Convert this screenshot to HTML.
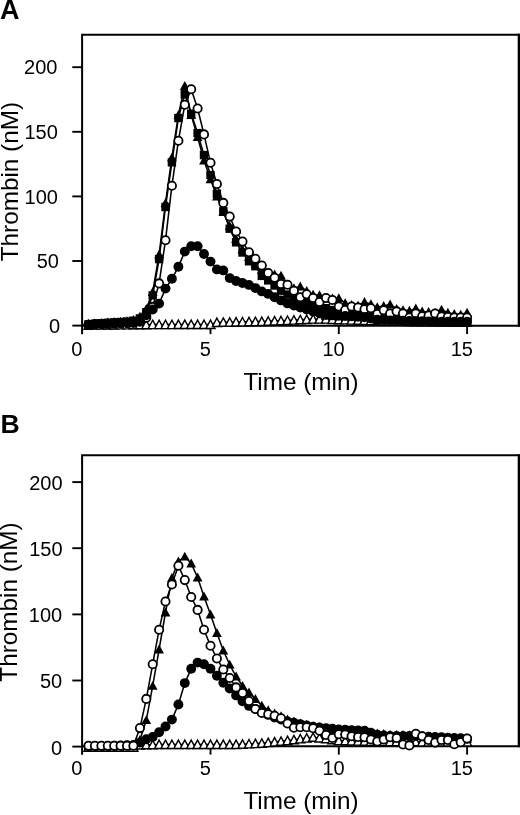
<!DOCTYPE html>
<html><head><meta charset="utf-8"><style>
html,body{margin:0;padding:0;background:#fff;}
svg{display:block;will-change:transform;}
text{font-family:"Liberation Sans",sans-serif;fill:#000;}
</style></head><body>
<svg width="520" height="815" viewBox="0 0 520 815">
<text x="0" y="18.8" font-size="27" font-weight="bold">A</text>
<text x="0.5" y="432.8" font-size="26.6" font-weight="bold">B</text>
<path d="M82.1 334.3 V34.7 H520" fill="none" stroke="#000" stroke-width="2"/>
<path d="M82.1 325.7 H520" fill="none" stroke="#000" stroke-width="2"/>
<rect x="517.7" y="33.7" width="2.3" height="293"/>
<path d="M72.3 325.6 H82" stroke="#000" stroke-width="1.9"/>
<path d="M72.3 261 H82" stroke="#000" stroke-width="1.9"/>
<path d="M72.3 196.4 H82" stroke="#000" stroke-width="1.9"/>
<path d="M72.3 131.8 H82" stroke="#000" stroke-width="1.9"/>
<path d="M72.3 67.2 H82" stroke="#000" stroke-width="1.9"/>
<path d="M210.5 325.7 V334.1" stroke="#000" stroke-width="1.9"/>
<path d="M338.8 325.7 V334.1" stroke="#000" stroke-width="1.9"/>
<path d="M467.1 325.7 V334.1" stroke="#000" stroke-width="1.9"/>
<text x="60.1" y="332.7" text-anchor="end" font-size="20">0</text>
<text x="59" y="268.1" text-anchor="end" font-size="20">50</text>
<text x="57.9" y="203.5" text-anchor="end" font-size="20">100</text>
<text x="57.8" y="138.9" text-anchor="end" font-size="20">150</text>
<text x="57.4" y="74.3" text-anchor="end" font-size="20">200</text>
<text x="76.8" y="355.6" text-anchor="middle" font-size="20">0</text>
<text x="205.2" y="355.6" text-anchor="middle" font-size="20">5</text>
<text x="333.5" y="355.6" text-anchor="middle" font-size="20">10</text>
<text x="461.8" y="355.6" text-anchor="middle" font-size="20">15</text>
<text x="301" y="389.8" text-anchor="middle" font-size="24.3">Time (min)</text>
<text transform="translate(17.8 181.6) rotate(-90)" text-anchor="middle" font-size="24.3">Thrombin (nM)</text>
<path d="M88.5 325.2 L94.9 325.1 L101.4 325.1 L107.8 325 L114.2 325 L120.6 324.9 L127 324.9 L133.4 324.8 L139.9 324.8 L146.3 324.7 L152.7 324.6 L159.1 324.6 L165.5 324.6 L171.9 324.6 L178.4 324.5 L184.8 324.5 L191.2 324.5 L197.6 324.5 L204 324.5 L210.5 324.5 L216.9 322.5 L223.3 322.3 L229.7 322.2 L236.1 322 L242.5 321.9 L249 321.7 L255.4 321.6 L261.8 321.5 L268.2 321.2 L274.6 320.9 L281 320.7 L287.5 320.4 L293.9 320.1 L300.3 319.8 L306.7 319.5 L313.1 319.1 L319.5 319.1 L326 319.1 L332.4 319.5 L338.8 319.8 L345.2 319.9 L351.6 320.1 L358.1 320.3 L364.5 320.4 L370.9 320.6 L377.3 320.8 L383.7 320.9 L390.1 321.1 L396.6 321.2 L403 321.4 L409.4 321.6 L415.8 321.7 L422.2 321.8 L428.6 321.9 L435.1 322 L441.5 322 L447.9 322.1 L454.3 322.2 L460.7 322.3 L467.1 322.4" fill="none" stroke="#000" stroke-width="1.55"/>
<path d="M88.5 320.8l4.5 8.4h-9z" fill="#fff" stroke="#000" stroke-width="1.4" stroke-linejoin="miter"/>
<path d="M94.9 320.7l4.5 8.4h-9z" fill="#fff" stroke="#000" stroke-width="1.4" stroke-linejoin="miter"/>
<path d="M101.4 320.7l4.5 8.4h-9z" fill="#fff" stroke="#000" stroke-width="1.4" stroke-linejoin="miter"/>
<path d="M107.8 320.6l4.5 8.4h-9z" fill="#fff" stroke="#000" stroke-width="1.4" stroke-linejoin="miter"/>
<path d="M114.2 320.6l4.5 8.4h-9z" fill="#fff" stroke="#000" stroke-width="1.4" stroke-linejoin="miter"/>
<path d="M120.6 320.5l4.5 8.4h-9z" fill="#fff" stroke="#000" stroke-width="1.4" stroke-linejoin="miter"/>
<path d="M127 320.5l4.5 8.4h-9z" fill="#fff" stroke="#000" stroke-width="1.4" stroke-linejoin="miter"/>
<path d="M133.4 320.4l4.5 8.4h-9z" fill="#fff" stroke="#000" stroke-width="1.4" stroke-linejoin="miter"/>
<path d="M139.9 320.4l4.5 8.4h-9z" fill="#fff" stroke="#000" stroke-width="1.4" stroke-linejoin="miter"/>
<path d="M146.3 320.3l4.5 8.4h-9z" fill="#fff" stroke="#000" stroke-width="1.4" stroke-linejoin="miter"/>
<path d="M152.7 320.2l4.5 8.4h-9z" fill="#fff" stroke="#000" stroke-width="1.4" stroke-linejoin="miter"/>
<path d="M159.1 320.2l4.5 8.4h-9z" fill="#fff" stroke="#000" stroke-width="1.4" stroke-linejoin="miter"/>
<path d="M165.5 320.2l4.5 8.4h-9z" fill="#fff" stroke="#000" stroke-width="1.4" stroke-linejoin="miter"/>
<path d="M171.9 320.2l4.5 8.4h-9z" fill="#fff" stroke="#000" stroke-width="1.4" stroke-linejoin="miter"/>
<path d="M178.4 320.1l4.5 8.4h-9z" fill="#fff" stroke="#000" stroke-width="1.4" stroke-linejoin="miter"/>
<path d="M184.8 320.1l4.5 8.4h-9z" fill="#fff" stroke="#000" stroke-width="1.4" stroke-linejoin="miter"/>
<path d="M191.2 320.1l4.5 8.4h-9z" fill="#fff" stroke="#000" stroke-width="1.4" stroke-linejoin="miter"/>
<path d="M197.6 320.1l4.5 8.4h-9z" fill="#fff" stroke="#000" stroke-width="1.4" stroke-linejoin="miter"/>
<path d="M204 320.1l4.5 8.4h-9z" fill="#fff" stroke="#000" stroke-width="1.4" stroke-linejoin="miter"/>
<path d="M210.5 320.1l4.5 8.4h-9z" fill="#fff" stroke="#000" stroke-width="1.4" stroke-linejoin="miter"/>
<path d="M216.9 318.1l4.5 8.4h-9z" fill="#fff" stroke="#000" stroke-width="1.4" stroke-linejoin="miter"/>
<path d="M223.3 317.9l4.5 8.4h-9z" fill="#fff" stroke="#000" stroke-width="1.4" stroke-linejoin="miter"/>
<path d="M229.7 317.8l4.5 8.4h-9z" fill="#fff" stroke="#000" stroke-width="1.4" stroke-linejoin="miter"/>
<path d="M236.1 317.6l4.5 8.4h-9z" fill="#fff" stroke="#000" stroke-width="1.4" stroke-linejoin="miter"/>
<path d="M242.5 317.5l4.5 8.4h-9z" fill="#fff" stroke="#000" stroke-width="1.4" stroke-linejoin="miter"/>
<path d="M249 317.3l4.5 8.4h-9z" fill="#fff" stroke="#000" stroke-width="1.4" stroke-linejoin="miter"/>
<path d="M255.4 317.2l4.5 8.4h-9z" fill="#fff" stroke="#000" stroke-width="1.4" stroke-linejoin="miter"/>
<path d="M261.8 317.1l4.5 8.4h-9z" fill="#fff" stroke="#000" stroke-width="1.4" stroke-linejoin="miter"/>
<path d="M268.2 316.8l4.5 8.4h-9z" fill="#fff" stroke="#000" stroke-width="1.4" stroke-linejoin="miter"/>
<path d="M274.6 316.5l4.5 8.4h-9z" fill="#fff" stroke="#000" stroke-width="1.4" stroke-linejoin="miter"/>
<path d="M281 316.3l4.5 8.4h-9z" fill="#fff" stroke="#000" stroke-width="1.4" stroke-linejoin="miter"/>
<path d="M287.5 316l4.5 8.4h-9z" fill="#fff" stroke="#000" stroke-width="1.4" stroke-linejoin="miter"/>
<path d="M293.9 315.7l4.5 8.4h-9z" fill="#fff" stroke="#000" stroke-width="1.4" stroke-linejoin="miter"/>
<path d="M300.3 315.4l4.5 8.4h-9z" fill="#fff" stroke="#000" stroke-width="1.4" stroke-linejoin="miter"/>
<path d="M306.7 315.1l4.5 8.4h-9z" fill="#fff" stroke="#000" stroke-width="1.4" stroke-linejoin="miter"/>
<path d="M313.1 314.7l4.5 8.4h-9z" fill="#fff" stroke="#000" stroke-width="1.4" stroke-linejoin="miter"/>
<path d="M319.5 314.7l4.5 8.4h-9z" fill="#fff" stroke="#000" stroke-width="1.4" stroke-linejoin="miter"/>
<path d="M326 314.7l4.5 8.4h-9z" fill="#fff" stroke="#000" stroke-width="1.4" stroke-linejoin="miter"/>
<path d="M332.4 315.1l4.5 8.4h-9z" fill="#fff" stroke="#000" stroke-width="1.4" stroke-linejoin="miter"/>
<path d="M338.8 315.4l4.5 8.4h-9z" fill="#fff" stroke="#000" stroke-width="1.4" stroke-linejoin="miter"/>
<path d="M345.2 315.5l4.5 8.4h-9z" fill="#fff" stroke="#000" stroke-width="1.4" stroke-linejoin="miter"/>
<path d="M351.6 315.7l4.5 8.4h-9z" fill="#fff" stroke="#000" stroke-width="1.4" stroke-linejoin="miter"/>
<path d="M358.1 315.9l4.5 8.4h-9z" fill="#fff" stroke="#000" stroke-width="1.4" stroke-linejoin="miter"/>
<path d="M364.5 316l4.5 8.4h-9z" fill="#fff" stroke="#000" stroke-width="1.4" stroke-linejoin="miter"/>
<path d="M370.9 316.2l4.5 8.4h-9z" fill="#fff" stroke="#000" stroke-width="1.4" stroke-linejoin="miter"/>
<path d="M377.3 316.4l4.5 8.4h-9z" fill="#fff" stroke="#000" stroke-width="1.4" stroke-linejoin="miter"/>
<path d="M383.7 316.5l4.5 8.4h-9z" fill="#fff" stroke="#000" stroke-width="1.4" stroke-linejoin="miter"/>
<path d="M390.1 316.7l4.5 8.4h-9z" fill="#fff" stroke="#000" stroke-width="1.4" stroke-linejoin="miter"/>
<path d="M396.6 316.8l4.5 8.4h-9z" fill="#fff" stroke="#000" stroke-width="1.4" stroke-linejoin="miter"/>
<path d="M403 317l4.5 8.4h-9z" fill="#fff" stroke="#000" stroke-width="1.4" stroke-linejoin="miter"/>
<path d="M409.4 317.2l4.5 8.4h-9z" fill="#fff" stroke="#000" stroke-width="1.4" stroke-linejoin="miter"/>
<path d="M415.8 317.3l4.5 8.4h-9z" fill="#fff" stroke="#000" stroke-width="1.4" stroke-linejoin="miter"/>
<path d="M422.2 317.4l4.5 8.4h-9z" fill="#fff" stroke="#000" stroke-width="1.4" stroke-linejoin="miter"/>
<path d="M428.6 317.5l4.5 8.4h-9z" fill="#fff" stroke="#000" stroke-width="1.4" stroke-linejoin="miter"/>
<path d="M435.1 317.6l4.5 8.4h-9z" fill="#fff" stroke="#000" stroke-width="1.4" stroke-linejoin="miter"/>
<path d="M441.5 317.6l4.5 8.4h-9z" fill="#fff" stroke="#000" stroke-width="1.4" stroke-linejoin="miter"/>
<path d="M447.9 317.7l4.5 8.4h-9z" fill="#fff" stroke="#000" stroke-width="1.4" stroke-linejoin="miter"/>
<path d="M454.3 317.8l4.5 8.4h-9z" fill="#fff" stroke="#000" stroke-width="1.4" stroke-linejoin="miter"/>
<path d="M460.7 317.9l4.5 8.4h-9z" fill="#fff" stroke="#000" stroke-width="1.4" stroke-linejoin="miter"/>
<path d="M467.1 318l4.5 8.4h-9z" fill="#fff" stroke="#000" stroke-width="1.4" stroke-linejoin="miter"/>
<path d="M88.5 324.3 L94.9 323.7 L101.4 323.2 L107.8 322.8 L114.2 322.4 L120.6 322 L127 321.5 L133.4 320.7 L139.9 318.4 L146.3 312.2 L152.7 295.4 L159.1 259.1 L165.5 207 L171.9 162.3 L178.4 118 L184.8 94.3 L191.2 113.7 L197.6 133.1 L204 155.1 L210.5 175.1 L216.9 193.8 L223.3 211.3 L229.7 228.7 L236.1 242.3 L242.5 252.5 L249 261.3 L255.4 266.2 L261.8 275.9 L268.2 280.4 L274.6 285.5 L281 290.7 L287.5 294.6 L293.9 297.2 L300.3 299.8 L306.7 302.3 L313.1 304.3 L319.5 306.2 L326 308.2 L332.4 310.1 L338.8 311.4 L345.2 312.7 L351.6 314 L358.1 314.9 L364.5 315.9 L370.9 316.9 L377.3 317.8 L383.7 318.5 L390.1 319.1 L396.6 319.5 L403 319.8 L409.4 320.1 L415.8 320.4 L422.2 320.6 L428.6 320.8 L435.1 320.9 L441.5 321.1 L447.9 321.2 L454.3 321.4 L460.7 321.6 L467.1 321.7" fill="none" stroke="#000" stroke-width="1.55"/>
<rect x="84.3" y="320.1" width="8.4" height="8.4"/>
<rect x="90.7" y="319.5" width="8.4" height="8.4"/>
<rect x="97.2" y="319" width="8.4" height="8.4"/>
<rect x="103.6" y="318.6" width="8.4" height="8.4"/>
<rect x="110" y="318.2" width="8.4" height="8.4"/>
<rect x="116.4" y="317.8" width="8.4" height="8.4"/>
<rect x="122.8" y="317.3" width="8.4" height="8.4"/>
<rect x="129.2" y="316.5" width="8.4" height="8.4"/>
<rect x="135.7" y="314.2" width="8.4" height="8.4"/>
<rect x="142.1" y="308" width="8.4" height="8.4"/>
<rect x="148.5" y="291.2" width="8.4" height="8.4"/>
<rect x="154.9" y="254.9" width="8.4" height="8.4"/>
<rect x="161.3" y="202.8" width="8.4" height="8.4"/>
<rect x="167.7" y="158.1" width="8.4" height="8.4"/>
<rect x="174.2" y="113.8" width="8.4" height="8.4"/>
<rect x="180.6" y="90.1" width="8.4" height="8.4"/>
<rect x="187" y="109.5" width="8.4" height="8.4"/>
<rect x="193.4" y="128.9" width="8.4" height="8.4"/>
<rect x="199.8" y="150.9" width="8.4" height="8.4"/>
<rect x="206.3" y="170.9" width="8.4" height="8.4"/>
<rect x="212.7" y="189.6" width="8.4" height="8.4"/>
<rect x="219.1" y="207.1" width="8.4" height="8.4"/>
<rect x="225.5" y="224.5" width="8.4" height="8.4"/>
<rect x="231.9" y="238.1" width="8.4" height="8.4"/>
<rect x="238.3" y="248.3" width="8.4" height="8.4"/>
<rect x="244.8" y="257.1" width="8.4" height="8.4"/>
<rect x="251.2" y="262" width="8.4" height="8.4"/>
<rect x="257.6" y="271.7" width="8.4" height="8.4"/>
<rect x="264" y="276.2" width="8.4" height="8.4"/>
<rect x="270.4" y="281.3" width="8.4" height="8.4"/>
<rect x="276.8" y="286.5" width="8.4" height="8.4"/>
<rect x="283.3" y="290.4" width="8.4" height="8.4"/>
<rect x="289.7" y="293" width="8.4" height="8.4"/>
<rect x="296.1" y="295.6" width="8.4" height="8.4"/>
<rect x="302.5" y="298.1" width="8.4" height="8.4"/>
<rect x="308.9" y="300.1" width="8.4" height="8.4"/>
<rect x="315.3" y="302" width="8.4" height="8.4"/>
<rect x="321.8" y="304" width="8.4" height="8.4"/>
<rect x="328.2" y="305.9" width="8.4" height="8.4"/>
<rect x="334.6" y="307.2" width="8.4" height="8.4"/>
<rect x="341" y="308.5" width="8.4" height="8.4"/>
<rect x="347.4" y="309.8" width="8.4" height="8.4"/>
<rect x="353.9" y="310.7" width="8.4" height="8.4"/>
<rect x="360.3" y="311.7" width="8.4" height="8.4"/>
<rect x="366.7" y="312.7" width="8.4" height="8.4"/>
<rect x="373.1" y="313.6" width="8.4" height="8.4"/>
<rect x="379.5" y="314.3" width="8.4" height="8.4"/>
<rect x="385.9" y="314.9" width="8.4" height="8.4"/>
<rect x="392.4" y="315.3" width="8.4" height="8.4"/>
<rect x="398.8" y="315.6" width="8.4" height="8.4"/>
<rect x="405.2" y="315.9" width="8.4" height="8.4"/>
<rect x="411.6" y="316.2" width="8.4" height="8.4"/>
<rect x="418" y="316.4" width="8.4" height="8.4"/>
<rect x="424.4" y="316.6" width="8.4" height="8.4"/>
<rect x="430.9" y="316.7" width="8.4" height="8.4"/>
<rect x="437.3" y="316.9" width="8.4" height="8.4"/>
<rect x="443.7" y="317" width="8.4" height="8.4"/>
<rect x="450.1" y="317.2" width="8.4" height="8.4"/>
<rect x="456.5" y="317.4" width="8.4" height="8.4"/>
<rect x="462.9" y="317.5" width="8.4" height="8.4"/>
<path d="M88.5 323.9 L94.9 323.3 L101.4 322.8 L107.8 322.4 L114.2 322 L120.6 321.7 L127 321.2 L133.4 319.8 L139.9 316.6 L146.3 308.8 L152.7 292 L159.1 254.5 L165.5 202.9 L171.9 157.6 L178.4 115 L184.8 85.9 L191.2 115 L197.6 137 L204 160.5 L210.5 179.2 L216.9 196.4 L223.3 211.9 L229.7 226.1 L236.1 239 L242.5 249.4 L249 257.1 L255.4 263.6 L261.8 270 L268.2 273.3 L274.6 274.4 L281 275.6 L287.5 284.3 L293.9 288.1 L300.3 286.5 L306.7 291 L313.1 294.6 L319.5 295.2 L326 298.5 L332.4 298.5 L338.8 298.2 L345.2 303.1 L351.6 304.9 L358.1 305.6 L364.5 302 L370.9 304.2 L377.3 307.1 L383.7 306 L390.1 304.4 L396.6 308.8 L403 310.1 L409.4 310.7 L415.8 308.5 L422.2 311.4 L428.6 312 L435.1 312.7 L441.5 309.7 L447.9 312.7 L454.3 314 L460.7 314.6 L467.1 312.7" fill="none" stroke="#000" stroke-width="1.55"/>
<path d="M88.5 319l4.9 8.9h-9.8z"/>
<path d="M94.9 318.4l4.9 8.9h-9.8z"/>
<path d="M101.4 317.9l4.9 8.9h-9.8z"/>
<path d="M107.8 317.5l4.9 8.9h-9.8z"/>
<path d="M114.2 317.1l4.9 8.9h-9.8z"/>
<path d="M120.6 316.8l4.9 8.9h-9.8z"/>
<path d="M127 316.3l4.9 8.9h-9.8z"/>
<path d="M133.4 314.9l4.9 8.9h-9.8z"/>
<path d="M139.9 311.7l4.9 8.9h-9.8z"/>
<path d="M146.3 303.9l4.9 8.9h-9.8z"/>
<path d="M152.7 287.1l4.9 8.9h-9.8z"/>
<path d="M159.1 249.6l4.9 8.9h-9.8z"/>
<path d="M165.5 198l4.9 8.9h-9.8z"/>
<path d="M171.9 152.7l4.9 8.9h-9.8z"/>
<path d="M178.4 110.1l4.9 8.9h-9.8z"/>
<path d="M184.8 81l4.9 8.9h-9.8z"/>
<path d="M191.2 110.1l4.9 8.9h-9.8z"/>
<path d="M197.6 132.1l4.9 8.9h-9.8z"/>
<path d="M204 155.6l4.9 8.9h-9.8z"/>
<path d="M210.5 174.3l4.9 8.9h-9.8z"/>
<path d="M216.9 191.5l4.9 8.9h-9.8z"/>
<path d="M223.3 207l4.9 8.9h-9.8z"/>
<path d="M229.7 221.2l4.9 8.9h-9.8z"/>
<path d="M236.1 234.1l4.9 8.9h-9.8z"/>
<path d="M242.5 244.5l4.9 8.9h-9.8z"/>
<path d="M249 252.2l4.9 8.9h-9.8z"/>
<path d="M255.4 258.7l4.9 8.9h-9.8z"/>
<path d="M261.8 265.1l4.9 8.9h-9.8z"/>
<path d="M268.2 268.4l4.9 8.9h-9.8z"/>
<path d="M274.6 269.5l4.9 8.9h-9.8z"/>
<path d="M281 270.7l4.9 8.9h-9.8z"/>
<path d="M287.5 279.4l4.9 8.9h-9.8z"/>
<path d="M293.9 283.2l4.9 8.9h-9.8z"/>
<path d="M300.3 281.6l4.9 8.9h-9.8z"/>
<path d="M306.7 286.1l4.9 8.9h-9.8z"/>
<path d="M313.1 289.7l4.9 8.9h-9.8z"/>
<path d="M319.5 290.3l4.9 8.9h-9.8z"/>
<path d="M326 293.6l4.9 8.9h-9.8z"/>
<path d="M332.4 293.6l4.9 8.9h-9.8z"/>
<path d="M338.8 293.3l4.9 8.9h-9.8z"/>
<path d="M345.2 298.2l4.9 8.9h-9.8z"/>
<path d="M351.6 300l4.9 8.9h-9.8z"/>
<path d="M358.1 300.7l4.9 8.9h-9.8z"/>
<path d="M364.5 297.1l4.9 8.9h-9.8z"/>
<path d="M370.9 299.3l4.9 8.9h-9.8z"/>
<path d="M377.3 302.2l4.9 8.9h-9.8z"/>
<path d="M383.7 301.1l4.9 8.9h-9.8z"/>
<path d="M390.1 299.5l4.9 8.9h-9.8z"/>
<path d="M396.6 303.9l4.9 8.9h-9.8z"/>
<path d="M403 305.2l4.9 8.9h-9.8z"/>
<path d="M409.4 305.8l4.9 8.9h-9.8z"/>
<path d="M415.8 303.6l4.9 8.9h-9.8z"/>
<path d="M422.2 306.5l4.9 8.9h-9.8z"/>
<path d="M428.6 307.1l4.9 8.9h-9.8z"/>
<path d="M435.1 307.8l4.9 8.9h-9.8z"/>
<path d="M441.5 304.8l4.9 8.9h-9.8z"/>
<path d="M447.9 307.8l4.9 8.9h-9.8z"/>
<path d="M454.3 309.1l4.9 8.9h-9.8z"/>
<path d="M460.7 309.7l4.9 8.9h-9.8z"/>
<path d="M467.1 307.8l4.9 8.9h-9.8z"/>
<path d="M88.5 324.8 L94.9 324.3 L101.4 324 L107.8 323.7 L114.2 323.5 L120.6 323.3 L127 323 L133.4 322.8 L139.9 321.7 L146.3 317.8 L152.7 306.9 L159.1 283.4 L165.5 240.3 L171.9 185.7 L178.4 140.8 L184.8 104.7 L191.2 89.2 L197.6 108.5 L204 134.4 L210.5 162.8 L216.9 184 L223.3 202.9 L229.7 216.6 L236.1 231.5 L242.5 241.6 L249 252.2 L255.4 258.7 L261.8 265.5 L268.2 273.1 L274.6 277.7 L281 284.1 L287.5 284.8 L293.9 290.8 L300.3 297.2 L306.7 294.2 L313.1 298 L319.5 302.1 L326 298 L332.4 300 L338.8 306.6 L345.2 310.1 L351.6 306.6 L358.1 307.5 L364.5 309.3 L370.9 308.2 L377.3 314 L383.7 310.2 L390.1 313.5 L396.6 311.4 L403 313.5 L409.4 317.6 L415.8 313.5 L422.2 316.2 L428.6 315.5 L435.1 313.5 L441.5 316.6 L447.9 317.1 L454.3 317.6 L460.7 317.6 L467.1 317.6" fill="none" stroke="#000" stroke-width="1.55"/>
<circle cx="88.5" cy="324.8" r="4.15" fill="#fff" stroke="#000" stroke-width="1.8"/>
<circle cx="94.9" cy="324.3" r="4.15" fill="#fff" stroke="#000" stroke-width="1.8"/>
<circle cx="101.4" cy="324" r="4.15" fill="#fff" stroke="#000" stroke-width="1.8"/>
<circle cx="107.8" cy="323.7" r="4.15" fill="#fff" stroke="#000" stroke-width="1.8"/>
<circle cx="114.2" cy="323.5" r="4.15" fill="#fff" stroke="#000" stroke-width="1.8"/>
<circle cx="120.6" cy="323.3" r="4.15" fill="#fff" stroke="#000" stroke-width="1.8"/>
<circle cx="127" cy="323" r="4.15" fill="#fff" stroke="#000" stroke-width="1.8"/>
<circle cx="133.4" cy="322.8" r="4.15" fill="#fff" stroke="#000" stroke-width="1.8"/>
<circle cx="139.9" cy="321.7" r="4.15" fill="#fff" stroke="#000" stroke-width="1.8"/>
<circle cx="146.3" cy="317.8" r="4.15" fill="#fff" stroke="#000" stroke-width="1.8"/>
<circle cx="152.7" cy="306.9" r="4.15" fill="#fff" stroke="#000" stroke-width="1.8"/>
<circle cx="159.1" cy="283.4" r="4.15" fill="#fff" stroke="#000" stroke-width="1.8"/>
<circle cx="165.5" cy="240.3" r="4.15" fill="#fff" stroke="#000" stroke-width="1.8"/>
<circle cx="171.9" cy="185.7" r="4.15" fill="#fff" stroke="#000" stroke-width="1.8"/>
<circle cx="178.4" cy="140.8" r="4.15" fill="#fff" stroke="#000" stroke-width="1.8"/>
<circle cx="184.8" cy="104.7" r="4.15" fill="#fff" stroke="#000" stroke-width="1.8"/>
<circle cx="191.2" cy="89.2" r="4.15" fill="#fff" stroke="#000" stroke-width="1.8"/>
<circle cx="197.6" cy="108.5" r="4.15" fill="#fff" stroke="#000" stroke-width="1.8"/>
<circle cx="204" cy="134.4" r="4.15" fill="#fff" stroke="#000" stroke-width="1.8"/>
<circle cx="210.5" cy="162.8" r="4.15" fill="#fff" stroke="#000" stroke-width="1.8"/>
<circle cx="216.9" cy="184" r="4.15" fill="#fff" stroke="#000" stroke-width="1.8"/>
<circle cx="223.3" cy="202.9" r="4.15" fill="#fff" stroke="#000" stroke-width="1.8"/>
<circle cx="229.7" cy="216.6" r="4.15" fill="#fff" stroke="#000" stroke-width="1.8"/>
<circle cx="236.1" cy="231.5" r="4.15" fill="#fff" stroke="#000" stroke-width="1.8"/>
<circle cx="242.5" cy="241.6" r="4.15" fill="#fff" stroke="#000" stroke-width="1.8"/>
<circle cx="249" cy="252.2" r="4.15" fill="#fff" stroke="#000" stroke-width="1.8"/>
<circle cx="255.4" cy="258.7" r="4.15" fill="#fff" stroke="#000" stroke-width="1.8"/>
<circle cx="261.8" cy="265.5" r="4.15" fill="#fff" stroke="#000" stroke-width="1.8"/>
<circle cx="268.2" cy="273.1" r="4.15" fill="#fff" stroke="#000" stroke-width="1.8"/>
<circle cx="274.6" cy="277.7" r="4.15" fill="#fff" stroke="#000" stroke-width="1.8"/>
<circle cx="281" cy="284.1" r="4.15" fill="#fff" stroke="#000" stroke-width="1.8"/>
<circle cx="287.5" cy="284.8" r="4.15" fill="#fff" stroke="#000" stroke-width="1.8"/>
<circle cx="293.9" cy="290.8" r="4.15" fill="#fff" stroke="#000" stroke-width="1.8"/>
<circle cx="300.3" cy="297.2" r="4.15" fill="#fff" stroke="#000" stroke-width="1.8"/>
<circle cx="306.7" cy="294.2" r="4.15" fill="#fff" stroke="#000" stroke-width="1.8"/>
<circle cx="313.1" cy="298" r="4.15" fill="#fff" stroke="#000" stroke-width="1.8"/>
<circle cx="319.5" cy="302.1" r="4.15" fill="#fff" stroke="#000" stroke-width="1.8"/>
<circle cx="326" cy="298" r="4.15" fill="#fff" stroke="#000" stroke-width="1.8"/>
<circle cx="332.4" cy="300" r="4.15" fill="#fff" stroke="#000" stroke-width="1.8"/>
<circle cx="338.8" cy="306.6" r="4.15" fill="#fff" stroke="#000" stroke-width="1.8"/>
<circle cx="345.2" cy="310.1" r="4.15" fill="#fff" stroke="#000" stroke-width="1.8"/>
<circle cx="351.6" cy="306.6" r="4.15" fill="#fff" stroke="#000" stroke-width="1.8"/>
<circle cx="358.1" cy="307.5" r="4.15" fill="#fff" stroke="#000" stroke-width="1.8"/>
<circle cx="364.5" cy="309.3" r="4.15" fill="#fff" stroke="#000" stroke-width="1.8"/>
<circle cx="370.9" cy="308.2" r="4.15" fill="#fff" stroke="#000" stroke-width="1.8"/>
<circle cx="377.3" cy="314" r="4.15" fill="#fff" stroke="#000" stroke-width="1.8"/>
<circle cx="383.7" cy="310.2" r="4.15" fill="#fff" stroke="#000" stroke-width="1.8"/>
<circle cx="390.1" cy="313.5" r="4.15" fill="#fff" stroke="#000" stroke-width="1.8"/>
<circle cx="396.6" cy="311.4" r="4.15" fill="#fff" stroke="#000" stroke-width="1.8"/>
<circle cx="403" cy="313.5" r="4.15" fill="#fff" stroke="#000" stroke-width="1.8"/>
<circle cx="409.4" cy="317.6" r="4.15" fill="#fff" stroke="#000" stroke-width="1.8"/>
<circle cx="415.8" cy="313.5" r="4.15" fill="#fff" stroke="#000" stroke-width="1.8"/>
<circle cx="422.2" cy="316.2" r="4.15" fill="#fff" stroke="#000" stroke-width="1.8"/>
<circle cx="428.6" cy="315.5" r="4.15" fill="#fff" stroke="#000" stroke-width="1.8"/>
<circle cx="435.1" cy="313.5" r="4.15" fill="#fff" stroke="#000" stroke-width="1.8"/>
<circle cx="441.5" cy="316.6" r="4.15" fill="#fff" stroke="#000" stroke-width="1.8"/>
<circle cx="447.9" cy="317.1" r="4.15" fill="#fff" stroke="#000" stroke-width="1.8"/>
<circle cx="454.3" cy="317.6" r="4.15" fill="#fff" stroke="#000" stroke-width="1.8"/>
<circle cx="460.7" cy="317.6" r="4.15" fill="#fff" stroke="#000" stroke-width="1.8"/>
<circle cx="467.1" cy="317.6" r="4.15" fill="#fff" stroke="#000" stroke-width="1.8"/>
<path d="M88.5 324.8 L94.9 324.3 L101.4 324 L107.8 323.7 L114.2 323.5 L120.6 323.3 L127 323 L133.4 322.8 L139.9 320.4 L146.3 315.3 L152.7 309.5 L159.1 303.6 L165.5 288.6 L171.9 278.8 L178.4 266.8 L184.8 251.6 L191.2 246.3 L197.6 246.3 L204 254 L210.5 261.6 L216.9 269.4 L223.3 270.4 L229.7 278.1 L236.1 281 L242.5 283 L249 284.9 L255.4 288.1 L261.8 291.4 L268.2 293.9 L274.6 297.2 L281 300.4 L287.5 303.4 L293.9 305.6 L300.3 307.5 L306.7 309.5 L313.1 311.4 L319.5 313.3 L326 315 L332.4 315.4 L338.8 315.8 L345.2 316 L351.6 316.3 L358.1 316.7 L364.5 317.2 L370.9 318.5 L377.3 319.8 L383.7 320.1 L390.1 320.4 L396.6 320.6 L403 320.8 L409.4 320.9 L415.8 321.1 L422.2 321.2 L428.6 321.4 L435.1 321.6 L441.5 321.7 L447.9 321.7 L454.3 321.7 L460.7 321.7 L467.1 321.7" fill="none" stroke="#000" stroke-width="1.55"/>
<circle cx="88.5" cy="324.8" r="4.95"/>
<circle cx="94.9" cy="324.3" r="4.95"/>
<circle cx="101.4" cy="324" r="4.95"/>
<circle cx="107.8" cy="323.7" r="4.95"/>
<circle cx="114.2" cy="323.5" r="4.95"/>
<circle cx="120.6" cy="323.3" r="4.95"/>
<circle cx="127" cy="323" r="4.95"/>
<circle cx="133.4" cy="322.8" r="4.95"/>
<circle cx="139.9" cy="320.4" r="4.95"/>
<circle cx="146.3" cy="315.3" r="4.95"/>
<circle cx="152.7" cy="309.5" r="4.95"/>
<circle cx="159.1" cy="303.6" r="4.95"/>
<circle cx="165.5" cy="288.6" r="4.95"/>
<circle cx="171.9" cy="278.8" r="4.95"/>
<circle cx="178.4" cy="266.8" r="4.95"/>
<circle cx="184.8" cy="251.6" r="4.95"/>
<circle cx="191.2" cy="246.3" r="4.95"/>
<circle cx="197.6" cy="246.3" r="4.95"/>
<circle cx="204" cy="254" r="4.95"/>
<circle cx="210.5" cy="261.6" r="4.95"/>
<circle cx="216.9" cy="269.4" r="4.95"/>
<circle cx="223.3" cy="270.4" r="4.95"/>
<circle cx="229.7" cy="278.1" r="4.95"/>
<circle cx="236.1" cy="281" r="4.95"/>
<circle cx="242.5" cy="283" r="4.95"/>
<circle cx="249" cy="284.9" r="4.95"/>
<circle cx="255.4" cy="288.1" r="4.95"/>
<circle cx="261.8" cy="291.4" r="4.95"/>
<circle cx="268.2" cy="293.9" r="4.95"/>
<circle cx="274.6" cy="297.2" r="4.95"/>
<circle cx="281" cy="300.4" r="4.95"/>
<circle cx="287.5" cy="303.4" r="4.95"/>
<circle cx="293.9" cy="305.6" r="4.95"/>
<circle cx="300.3" cy="307.5" r="4.95"/>
<circle cx="306.7" cy="309.5" r="4.95"/>
<circle cx="313.1" cy="311.4" r="4.95"/>
<circle cx="319.5" cy="313.3" r="4.95"/>
<circle cx="326" cy="315" r="4.95"/>
<circle cx="332.4" cy="315.4" r="4.95"/>
<circle cx="338.8" cy="315.8" r="4.95"/>
<circle cx="345.2" cy="316" r="4.95"/>
<circle cx="351.6" cy="316.3" r="4.95"/>
<circle cx="358.1" cy="316.7" r="4.95"/>
<circle cx="364.5" cy="317.2" r="4.95"/>
<circle cx="370.9" cy="318.5" r="4.95"/>
<circle cx="377.3" cy="319.8" r="4.95"/>
<circle cx="383.7" cy="320.1" r="4.95"/>
<circle cx="390.1" cy="320.4" r="4.95"/>
<circle cx="396.6" cy="320.6" r="4.95"/>
<circle cx="403" cy="320.8" r="4.95"/>
<circle cx="409.4" cy="320.9" r="4.95"/>
<circle cx="415.8" cy="321.1" r="4.95"/>
<circle cx="422.2" cy="321.2" r="4.95"/>
<circle cx="428.6" cy="321.4" r="4.95"/>
<circle cx="435.1" cy="321.6" r="4.95"/>
<circle cx="441.5" cy="321.7" r="4.95"/>
<circle cx="447.9" cy="321.7" r="4.95"/>
<circle cx="454.3" cy="321.7" r="4.95"/>
<circle cx="460.7" cy="321.7" r="4.95"/>
<circle cx="467.1" cy="321.7" r="4.95"/>
<path d="M82.1 754.8 V455.3 H520" fill="none" stroke="#000" stroke-width="2"/>
<path d="M82.1 746.2 H520" fill="none" stroke="#000" stroke-width="2"/>
<rect x="517.7" y="454.3" width="2.3" height="292.9"/>
<path d="M72.3 746.6 H82" stroke="#000" stroke-width="1.9"/>
<path d="M72.3 680.5 H82" stroke="#000" stroke-width="1.9"/>
<path d="M72.3 614.4 H82" stroke="#000" stroke-width="1.9"/>
<path d="M72.3 548.2 H82" stroke="#000" stroke-width="1.9"/>
<path d="M72.3 482.1 H82" stroke="#000" stroke-width="1.9"/>
<path d="M210.5 746.2 V754.6" stroke="#000" stroke-width="1.9"/>
<path d="M338.8 746.2 V754.6" stroke="#000" stroke-width="1.9"/>
<path d="M467.1 746.2 V754.6" stroke="#000" stroke-width="1.9"/>
<text x="62.2" y="754.5" text-anchor="end" font-size="20">0</text>
<text x="62.2" y="688.4" text-anchor="end" font-size="20">50</text>
<text x="62.2" y="622.2" text-anchor="end" font-size="20">100</text>
<text x="62.6" y="556.1" text-anchor="end" font-size="20">150</text>
<text x="62.6" y="490" text-anchor="end" font-size="20">200</text>
<text x="76.8" y="775.4" text-anchor="middle" font-size="20">0</text>
<text x="205.2" y="775.4" text-anchor="middle" font-size="20">5</text>
<text x="333.5" y="775.4" text-anchor="middle" font-size="20">10</text>
<text x="461.8" y="775.4" text-anchor="middle" font-size="20">15</text>
<text x="301" y="809.2" text-anchor="middle" font-size="24.3">Time (min)</text>
<text transform="translate(17.3 602) rotate(-90)" text-anchor="middle" font-size="24.3">Thrombin (nM)</text>
<path d="M88.5 747.3 L94.9 747.3 L101.4 747.3 L107.8 747.3 L114.2 747.3 L120.6 747.3 L127 747.3 L133.4 747.3 L139.9 745 L146.3 744.8 L152.7 744.7 L159.1 744.5 L165.5 744.5 L171.9 744.5 L178.4 744.5 L184.8 744.5 L191.2 744.5 L197.6 744.5 L204 744.5 L210.5 744.5 L216.9 744.5 L223.3 744.5 L229.7 744.5 L236.1 744.5 L242.5 744.2 L249 743.9 L255.4 743.6 L261.8 743.3 L268.2 742.6 L274.6 742 L281 741.3 L287.5 740.6 L293.9 739.8 L300.3 738.9 L306.7 738.1 L313.1 737.3 L319.5 738 L326 738.7 L332.4 739.7 L338.8 740.6 L345.2 740.8 L351.6 741 L358.1 741.1 L364.5 741.3 L370.9 741.4 L377.3 741.4 L383.7 741.5 L390.1 741.6 L396.6 741.6 L403 741.7 L409.4 741.8 L415.8 741.8 L422.2 741.9 L428.6 741.9 L435.1 741.9 L441.5 741.9 L447.9 741.9 L454.3 741.9 L460.7 742 L467.1 742" fill="none" stroke="#000" stroke-width="1.55"/>
<path d="M88.5 742.9l4.5 8.4h-9z" fill="#fff" stroke="#000" stroke-width="1.4" stroke-linejoin="miter"/>
<path d="M94.9 742.9l4.5 8.4h-9z" fill="#fff" stroke="#000" stroke-width="1.4" stroke-linejoin="miter"/>
<path d="M101.4 742.9l4.5 8.4h-9z" fill="#fff" stroke="#000" stroke-width="1.4" stroke-linejoin="miter"/>
<path d="M107.8 742.9l4.5 8.4h-9z" fill="#fff" stroke="#000" stroke-width="1.4" stroke-linejoin="miter"/>
<path d="M114.2 742.9l4.5 8.4h-9z" fill="#fff" stroke="#000" stroke-width="1.4" stroke-linejoin="miter"/>
<path d="M120.6 742.9l4.5 8.4h-9z" fill="#fff" stroke="#000" stroke-width="1.4" stroke-linejoin="miter"/>
<path d="M127 742.9l4.5 8.4h-9z" fill="#fff" stroke="#000" stroke-width="1.4" stroke-linejoin="miter"/>
<path d="M133.4 742.9l4.5 8.4h-9z" fill="#fff" stroke="#000" stroke-width="1.4" stroke-linejoin="miter"/>
<path d="M139.9 740.6l4.5 8.4h-9z" fill="#fff" stroke="#000" stroke-width="1.4" stroke-linejoin="miter"/>
<path d="M146.3 740.4l4.5 8.4h-9z" fill="#fff" stroke="#000" stroke-width="1.4" stroke-linejoin="miter"/>
<path d="M152.7 740.3l4.5 8.4h-9z" fill="#fff" stroke="#000" stroke-width="1.4" stroke-linejoin="miter"/>
<path d="M159.1 740.1l4.5 8.4h-9z" fill="#fff" stroke="#000" stroke-width="1.4" stroke-linejoin="miter"/>
<path d="M165.5 740.1l4.5 8.4h-9z" fill="#fff" stroke="#000" stroke-width="1.4" stroke-linejoin="miter"/>
<path d="M171.9 740.1l4.5 8.4h-9z" fill="#fff" stroke="#000" stroke-width="1.4" stroke-linejoin="miter"/>
<path d="M178.4 740.1l4.5 8.4h-9z" fill="#fff" stroke="#000" stroke-width="1.4" stroke-linejoin="miter"/>
<path d="M184.8 740.1l4.5 8.4h-9z" fill="#fff" stroke="#000" stroke-width="1.4" stroke-linejoin="miter"/>
<path d="M191.2 740.1l4.5 8.4h-9z" fill="#fff" stroke="#000" stroke-width="1.4" stroke-linejoin="miter"/>
<path d="M197.6 740.1l4.5 8.4h-9z" fill="#fff" stroke="#000" stroke-width="1.4" stroke-linejoin="miter"/>
<path d="M204 740.1l4.5 8.4h-9z" fill="#fff" stroke="#000" stroke-width="1.4" stroke-linejoin="miter"/>
<path d="M210.5 740.1l4.5 8.4h-9z" fill="#fff" stroke="#000" stroke-width="1.4" stroke-linejoin="miter"/>
<path d="M216.9 740.1l4.5 8.4h-9z" fill="#fff" stroke="#000" stroke-width="1.4" stroke-linejoin="miter"/>
<path d="M223.3 740.1l4.5 8.4h-9z" fill="#fff" stroke="#000" stroke-width="1.4" stroke-linejoin="miter"/>
<path d="M229.7 740.1l4.5 8.4h-9z" fill="#fff" stroke="#000" stroke-width="1.4" stroke-linejoin="miter"/>
<path d="M236.1 740.1l4.5 8.4h-9z" fill="#fff" stroke="#000" stroke-width="1.4" stroke-linejoin="miter"/>
<path d="M242.5 739.8l4.5 8.4h-9z" fill="#fff" stroke="#000" stroke-width="1.4" stroke-linejoin="miter"/>
<path d="M249 739.5l4.5 8.4h-9z" fill="#fff" stroke="#000" stroke-width="1.4" stroke-linejoin="miter"/>
<path d="M255.4 739.2l4.5 8.4h-9z" fill="#fff" stroke="#000" stroke-width="1.4" stroke-linejoin="miter"/>
<path d="M261.8 738.9l4.5 8.4h-9z" fill="#fff" stroke="#000" stroke-width="1.4" stroke-linejoin="miter"/>
<path d="M268.2 738.2l4.5 8.4h-9z" fill="#fff" stroke="#000" stroke-width="1.4" stroke-linejoin="miter"/>
<path d="M274.6 737.6l4.5 8.4h-9z" fill="#fff" stroke="#000" stroke-width="1.4" stroke-linejoin="miter"/>
<path d="M281 736.9l4.5 8.4h-9z" fill="#fff" stroke="#000" stroke-width="1.4" stroke-linejoin="miter"/>
<path d="M287.5 736.2l4.5 8.4h-9z" fill="#fff" stroke="#000" stroke-width="1.4" stroke-linejoin="miter"/>
<path d="M293.9 735.4l4.5 8.4h-9z" fill="#fff" stroke="#000" stroke-width="1.4" stroke-linejoin="miter"/>
<path d="M300.3 734.5l4.5 8.4h-9z" fill="#fff" stroke="#000" stroke-width="1.4" stroke-linejoin="miter"/>
<path d="M306.7 733.7l4.5 8.4h-9z" fill="#fff" stroke="#000" stroke-width="1.4" stroke-linejoin="miter"/>
<path d="M313.1 732.9l4.5 8.4h-9z" fill="#fff" stroke="#000" stroke-width="1.4" stroke-linejoin="miter"/>
<path d="M319.5 733.6l4.5 8.4h-9z" fill="#fff" stroke="#000" stroke-width="1.4" stroke-linejoin="miter"/>
<path d="M326 734.3l4.5 8.4h-9z" fill="#fff" stroke="#000" stroke-width="1.4" stroke-linejoin="miter"/>
<path d="M332.4 735.3l4.5 8.4h-9z" fill="#fff" stroke="#000" stroke-width="1.4" stroke-linejoin="miter"/>
<path d="M338.8 736.2l4.5 8.4h-9z" fill="#fff" stroke="#000" stroke-width="1.4" stroke-linejoin="miter"/>
<path d="M345.2 736.4l4.5 8.4h-9z" fill="#fff" stroke="#000" stroke-width="1.4" stroke-linejoin="miter"/>
<path d="M351.6 736.6l4.5 8.4h-9z" fill="#fff" stroke="#000" stroke-width="1.4" stroke-linejoin="miter"/>
<path d="M358.1 736.7l4.5 8.4h-9z" fill="#fff" stroke="#000" stroke-width="1.4" stroke-linejoin="miter"/>
<path d="M364.5 736.9l4.5 8.4h-9z" fill="#fff" stroke="#000" stroke-width="1.4" stroke-linejoin="miter"/>
<path d="M370.9 737l4.5 8.4h-9z" fill="#fff" stroke="#000" stroke-width="1.4" stroke-linejoin="miter"/>
<path d="M377.3 737l4.5 8.4h-9z" fill="#fff" stroke="#000" stroke-width="1.4" stroke-linejoin="miter"/>
<path d="M383.7 737.1l4.5 8.4h-9z" fill="#fff" stroke="#000" stroke-width="1.4" stroke-linejoin="miter"/>
<path d="M390.1 737.2l4.5 8.4h-9z" fill="#fff" stroke="#000" stroke-width="1.4" stroke-linejoin="miter"/>
<path d="M396.6 737.2l4.5 8.4h-9z" fill="#fff" stroke="#000" stroke-width="1.4" stroke-linejoin="miter"/>
<path d="M403 737.3l4.5 8.4h-9z" fill="#fff" stroke="#000" stroke-width="1.4" stroke-linejoin="miter"/>
<path d="M409.4 737.4l4.5 8.4h-9z" fill="#fff" stroke="#000" stroke-width="1.4" stroke-linejoin="miter"/>
<path d="M415.8 737.4l4.5 8.4h-9z" fill="#fff" stroke="#000" stroke-width="1.4" stroke-linejoin="miter"/>
<path d="M422.2 737.5l4.5 8.4h-9z" fill="#fff" stroke="#000" stroke-width="1.4" stroke-linejoin="miter"/>
<path d="M428.6 737.5l4.5 8.4h-9z" fill="#fff" stroke="#000" stroke-width="1.4" stroke-linejoin="miter"/>
<path d="M435.1 737.5l4.5 8.4h-9z" fill="#fff" stroke="#000" stroke-width="1.4" stroke-linejoin="miter"/>
<path d="M441.5 737.5l4.5 8.4h-9z" fill="#fff" stroke="#000" stroke-width="1.4" stroke-linejoin="miter"/>
<path d="M447.9 737.5l4.5 8.4h-9z" fill="#fff" stroke="#000" stroke-width="1.4" stroke-linejoin="miter"/>
<path d="M454.3 737.5l4.5 8.4h-9z" fill="#fff" stroke="#000" stroke-width="1.4" stroke-linejoin="miter"/>
<path d="M460.7 737.6l4.5 8.4h-9z" fill="#fff" stroke="#000" stroke-width="1.4" stroke-linejoin="miter"/>
<path d="M467.1 737.6l4.5 8.4h-9z" fill="#fff" stroke="#000" stroke-width="1.4" stroke-linejoin="miter"/>
<path d="M88.5 746.1 L94.9 746.1 L101.4 746 L107.8 745.9 L114.2 745.7 L120.6 745.5 L127 745.2 L133.4 745 L139.9 742.6 L146.3 739.2 L152.7 736.9 L159.1 732.3 L165.5 726.5 L171.9 719.6 L178.4 704.5 L184.8 683.1 L191.2 668.8 L197.6 662.6 L204 664.2 L210.5 668.8 L216.9 675.8 L223.3 682.7 L229.7 688.5 L236.1 695.4 L242.5 701.2 L249 705.9 L255.4 709 L261.8 712.2 L268.2 714.9 L274.6 717.5 L281 719.5 L287.5 721.5 L293.9 722.8 L300.3 724.1 L306.7 725.4 L313.1 726.8 L319.5 727.4 L326 728.1 L332.4 728.7 L338.8 729.4 L345.2 729.7 L351.6 730.1 L358.1 730.4 L364.5 730.7 L370.9 732.7 L377.3 734.7 L383.7 735.4 L390.1 736 L396.6 736 L403 736 L409.4 736 L415.8 736 L422.2 736.4 L428.6 736.7 L435.1 737 L441.5 737.3 L447.9 737.7 L454.3 738 L460.7 738.3 L467.1 738.7" fill="none" stroke="#000" stroke-width="1.55"/>
<circle cx="88.5" cy="746.1" r="4.95"/>
<circle cx="94.9" cy="746.1" r="4.95"/>
<circle cx="101.4" cy="746" r="4.95"/>
<circle cx="107.8" cy="745.9" r="4.95"/>
<circle cx="114.2" cy="745.7" r="4.95"/>
<circle cx="120.6" cy="745.5" r="4.95"/>
<circle cx="127" cy="745.2" r="4.95"/>
<circle cx="133.4" cy="745" r="4.95"/>
<circle cx="139.9" cy="742.6" r="4.95"/>
<circle cx="146.3" cy="739.2" r="4.95"/>
<circle cx="152.7" cy="736.9" r="4.95"/>
<circle cx="159.1" cy="732.3" r="4.95"/>
<circle cx="165.5" cy="726.5" r="4.95"/>
<circle cx="171.9" cy="719.6" r="4.95"/>
<circle cx="178.4" cy="704.5" r="4.95"/>
<circle cx="184.8" cy="683.1" r="4.95"/>
<circle cx="191.2" cy="668.8" r="4.95"/>
<circle cx="197.6" cy="662.6" r="4.95"/>
<circle cx="204" cy="664.2" r="4.95"/>
<circle cx="210.5" cy="668.8" r="4.95"/>
<circle cx="216.9" cy="675.8" r="4.95"/>
<circle cx="223.3" cy="682.7" r="4.95"/>
<circle cx="229.7" cy="688.5" r="4.95"/>
<circle cx="236.1" cy="695.4" r="4.95"/>
<circle cx="242.5" cy="701.2" r="4.95"/>
<circle cx="249" cy="705.9" r="4.95"/>
<circle cx="255.4" cy="709" r="4.95"/>
<circle cx="261.8" cy="712.2" r="4.95"/>
<circle cx="268.2" cy="714.9" r="4.95"/>
<circle cx="274.6" cy="717.5" r="4.95"/>
<circle cx="281" cy="719.5" r="4.95"/>
<circle cx="287.5" cy="721.5" r="4.95"/>
<circle cx="293.9" cy="722.8" r="4.95"/>
<circle cx="300.3" cy="724.1" r="4.95"/>
<circle cx="306.7" cy="725.4" r="4.95"/>
<circle cx="313.1" cy="726.8" r="4.95"/>
<circle cx="319.5" cy="727.4" r="4.95"/>
<circle cx="326" cy="728.1" r="4.95"/>
<circle cx="332.4" cy="728.7" r="4.95"/>
<circle cx="338.8" cy="729.4" r="4.95"/>
<circle cx="345.2" cy="729.7" r="4.95"/>
<circle cx="351.6" cy="730.1" r="4.95"/>
<circle cx="358.1" cy="730.4" r="4.95"/>
<circle cx="364.5" cy="730.7" r="4.95"/>
<circle cx="370.9" cy="732.7" r="4.95"/>
<circle cx="377.3" cy="734.7" r="4.95"/>
<circle cx="383.7" cy="735.4" r="4.95"/>
<circle cx="390.1" cy="736" r="4.95"/>
<circle cx="396.6" cy="736" r="4.95"/>
<circle cx="403" cy="736" r="4.95"/>
<circle cx="409.4" cy="736" r="4.95"/>
<circle cx="415.8" cy="736" r="4.95"/>
<circle cx="422.2" cy="736.4" r="4.95"/>
<circle cx="428.6" cy="736.7" r="4.95"/>
<circle cx="435.1" cy="737" r="4.95"/>
<circle cx="441.5" cy="737.3" r="4.95"/>
<circle cx="447.9" cy="737.7" r="4.95"/>
<circle cx="454.3" cy="738" r="4.95"/>
<circle cx="460.7" cy="738.3" r="4.95"/>
<circle cx="467.1" cy="738.7" r="4.95"/>
<path d="M88.5 746.2 L94.9 746.1 L101.4 746.1 L107.8 746.1 L114.2 746 L120.6 745.9 L127 745.9 L133.4 745.8 L139.9 740 L146.3 720.1 L152.7 685.8 L159.1 649.4 L165.5 612.5 L171.9 578 L178.4 561.5 L184.8 556.6 L191.2 563.4 L197.6 577.5 L204 596.5 L210.5 614.4 L216.9 632.9 L223.3 650.5 L229.7 664.6 L236.1 676.5 L242.5 685.8 L249 692.4 L255.4 699 L261.8 705.6 L268.2 710.2 L274.6 713.5 L281 716.2 L287.5 719.5 L293.9 721.5 L300.3 723.5 L306.7 724.8 L313.1 726.1 L319.5 727.1 L326 728.1 L332.4 728.7 L338.8 729.4 L345.2 730.1 L351.6 730.7 L358.1 731.4 L364.5 732.1 L370.9 732.7 L377.3 733.4 L383.7 734 L390.1 734.7 L396.6 734.9 L403 735 L409.4 735.2 L415.8 735.4 L422.2 735.9 L428.6 736.4 L435.1 736.8 L441.5 737.3 L447.9 737.7 L454.3 738 L460.7 738.3 L467.1 738.7" fill="none" stroke="#000" stroke-width="1.55"/>
<path d="M88.5 741.3l4.9 8.9h-9.8z"/>
<path d="M94.9 741.2l4.9 8.9h-9.8z"/>
<path d="M101.4 741.2l4.9 8.9h-9.8z"/>
<path d="M107.8 741.2l4.9 8.9h-9.8z"/>
<path d="M114.2 741.1l4.9 8.9h-9.8z"/>
<path d="M120.6 741l4.9 8.9h-9.8z"/>
<path d="M127 741l4.9 8.9h-9.8z"/>
<path d="M133.4 740.9l4.9 8.9h-9.8z"/>
<path d="M139.9 735.1l4.9 8.9h-9.8z"/>
<path d="M146.3 715.2l4.9 8.9h-9.8z"/>
<path d="M152.7 680.9l4.9 8.9h-9.8z"/>
<path d="M159.1 644.5l4.9 8.9h-9.8z"/>
<path d="M165.5 607.6l4.9 8.9h-9.8z"/>
<path d="M171.9 573.1l4.9 8.9h-9.8z"/>
<path d="M178.4 556.6l4.9 8.9h-9.8z"/>
<path d="M184.8 551.7l4.9 8.9h-9.8z"/>
<path d="M191.2 558.5l4.9 8.9h-9.8z"/>
<path d="M197.6 572.6l4.9 8.9h-9.8z"/>
<path d="M204 591.6l4.9 8.9h-9.8z"/>
<path d="M210.5 609.5l4.9 8.9h-9.8z"/>
<path d="M216.9 628l4.9 8.9h-9.8z"/>
<path d="M223.3 645.6l4.9 8.9h-9.8z"/>
<path d="M229.7 659.7l4.9 8.9h-9.8z"/>
<path d="M236.1 671.6l4.9 8.9h-9.8z"/>
<path d="M242.5 680.9l4.9 8.9h-9.8z"/>
<path d="M249 687.5l4.9 8.9h-9.8z"/>
<path d="M255.4 694.1l4.9 8.9h-9.8z"/>
<path d="M261.8 700.7l4.9 8.9h-9.8z"/>
<path d="M268.2 705.3l4.9 8.9h-9.8z"/>
<path d="M274.6 708.6l4.9 8.9h-9.8z"/>
<path d="M281 711.3l4.9 8.9h-9.8z"/>
<path d="M287.5 714.6l4.9 8.9h-9.8z"/>
<path d="M293.9 716.6l4.9 8.9h-9.8z"/>
<path d="M300.3 718.6l4.9 8.9h-9.8z"/>
<path d="M306.7 719.9l4.9 8.9h-9.8z"/>
<path d="M313.1 721.2l4.9 8.9h-9.8z"/>
<path d="M319.5 722.2l4.9 8.9h-9.8z"/>
<path d="M326 723.2l4.9 8.9h-9.8z"/>
<path d="M332.4 723.8l4.9 8.9h-9.8z"/>
<path d="M338.8 724.5l4.9 8.9h-9.8z"/>
<path d="M345.2 725.2l4.9 8.9h-9.8z"/>
<path d="M351.6 725.8l4.9 8.9h-9.8z"/>
<path d="M358.1 726.5l4.9 8.9h-9.8z"/>
<path d="M364.5 727.2l4.9 8.9h-9.8z"/>
<path d="M370.9 727.8l4.9 8.9h-9.8z"/>
<path d="M377.3 728.5l4.9 8.9h-9.8z"/>
<path d="M383.7 729.1l4.9 8.9h-9.8z"/>
<path d="M390.1 729.8l4.9 8.9h-9.8z"/>
<path d="M396.6 730l4.9 8.9h-9.8z"/>
<path d="M403 730.1l4.9 8.9h-9.8z"/>
<path d="M409.4 730.3l4.9 8.9h-9.8z"/>
<path d="M415.8 730.5l4.9 8.9h-9.8z"/>
<path d="M422.2 731l4.9 8.9h-9.8z"/>
<path d="M428.6 731.5l4.9 8.9h-9.8z"/>
<path d="M435.1 731.9l4.9 8.9h-9.8z"/>
<path d="M441.5 732.4l4.9 8.9h-9.8z"/>
<path d="M447.9 732.8l4.9 8.9h-9.8z"/>
<path d="M454.3 733.1l4.9 8.9h-9.8z"/>
<path d="M460.7 733.4l4.9 8.9h-9.8z"/>
<path d="M467.1 733.8l4.9 8.9h-9.8z"/>
<path d="M88.5 745.7 L94.9 745.7 L101.4 745.7 L107.8 745.7 L114.2 745.7 L120.6 745.7 L127 745.7 L133.4 745.7 L139.9 728.1 L146.3 698.9 L152.7 664.2 L159.1 629.7 L165.5 601.5 L171.9 584.5 L178.4 565.8 L184.8 580.1 L191.2 597 L197.6 609.9 L204 629.7 L210.5 645.7 L216.9 658.5 L223.3 669.5 L229.7 678 L236.1 687.4 L242.5 693 L249 701 L255.4 709 L261.8 712.9 L268.2 714.2 L274.6 715.8 L281 718.2 L287.5 723.5 L293.9 727.7 L300.3 727.3 L306.7 727.3 L313.1 728.3 L319.5 730.7 L326 735 L332.4 738 L338.8 734.2 L345.2 734.6 L351.6 736.2 L358.1 736.9 L364.5 737.3 L370.9 739.5 L377.3 741.4 L383.7 739.5 L390.1 737.3 L396.6 738 L403 744.4 L409.4 745.4 L415.8 733.8 L422.2 736.2 L428.6 740 L435.1 742.6 L441.5 740 L447.9 740 L454.3 744.2 L460.7 742.2 L467.1 738.5" fill="none" stroke="#000" stroke-width="1.55"/>
<circle cx="88.5" cy="745.7" r="4.15" fill="#fff" stroke="#000" stroke-width="1.8"/>
<circle cx="94.9" cy="745.7" r="4.15" fill="#fff" stroke="#000" stroke-width="1.8"/>
<circle cx="101.4" cy="745.7" r="4.15" fill="#fff" stroke="#000" stroke-width="1.8"/>
<circle cx="107.8" cy="745.7" r="4.15" fill="#fff" stroke="#000" stroke-width="1.8"/>
<circle cx="114.2" cy="745.7" r="4.15" fill="#fff" stroke="#000" stroke-width="1.8"/>
<circle cx="120.6" cy="745.7" r="4.15" fill="#fff" stroke="#000" stroke-width="1.8"/>
<circle cx="127" cy="745.7" r="4.15" fill="#fff" stroke="#000" stroke-width="1.8"/>
<circle cx="133.4" cy="745.7" r="4.15" fill="#fff" stroke="#000" stroke-width="1.8"/>
<circle cx="139.9" cy="728.1" r="4.15" fill="#fff" stroke="#000" stroke-width="1.8"/>
<circle cx="146.3" cy="698.9" r="4.15" fill="#fff" stroke="#000" stroke-width="1.8"/>
<circle cx="152.7" cy="664.2" r="4.15" fill="#fff" stroke="#000" stroke-width="1.8"/>
<circle cx="159.1" cy="629.7" r="4.15" fill="#fff" stroke="#000" stroke-width="1.8"/>
<circle cx="165.5" cy="601.5" r="4.15" fill="#fff" stroke="#000" stroke-width="1.8"/>
<circle cx="171.9" cy="584.5" r="4.15" fill="#fff" stroke="#000" stroke-width="1.8"/>
<circle cx="178.4" cy="565.8" r="4.15" fill="#fff" stroke="#000" stroke-width="1.8"/>
<circle cx="184.8" cy="580.1" r="4.15" fill="#fff" stroke="#000" stroke-width="1.8"/>
<circle cx="191.2" cy="597" r="4.15" fill="#fff" stroke="#000" stroke-width="1.8"/>
<circle cx="197.6" cy="609.9" r="4.15" fill="#fff" stroke="#000" stroke-width="1.8"/>
<circle cx="204" cy="629.7" r="4.15" fill="#fff" stroke="#000" stroke-width="1.8"/>
<circle cx="210.5" cy="645.7" r="4.15" fill="#fff" stroke="#000" stroke-width="1.8"/>
<circle cx="216.9" cy="658.5" r="4.15" fill="#fff" stroke="#000" stroke-width="1.8"/>
<circle cx="223.3" cy="669.5" r="4.15" fill="#fff" stroke="#000" stroke-width="1.8"/>
<circle cx="229.7" cy="678" r="4.15" fill="#fff" stroke="#000" stroke-width="1.8"/>
<circle cx="236.1" cy="687.4" r="4.15" fill="#fff" stroke="#000" stroke-width="1.8"/>
<circle cx="242.5" cy="693" r="4.15" fill="#fff" stroke="#000" stroke-width="1.8"/>
<circle cx="249" cy="701" r="4.15" fill="#fff" stroke="#000" stroke-width="1.8"/>
<circle cx="255.4" cy="709" r="4.15" fill="#fff" stroke="#000" stroke-width="1.8"/>
<circle cx="261.8" cy="712.9" r="4.15" fill="#fff" stroke="#000" stroke-width="1.8"/>
<circle cx="268.2" cy="714.2" r="4.15" fill="#fff" stroke="#000" stroke-width="1.8"/>
<circle cx="274.6" cy="715.8" r="4.15" fill="#fff" stroke="#000" stroke-width="1.8"/>
<circle cx="281" cy="718.2" r="4.15" fill="#fff" stroke="#000" stroke-width="1.8"/>
<circle cx="287.5" cy="723.5" r="4.15" fill="#fff" stroke="#000" stroke-width="1.8"/>
<circle cx="293.9" cy="727.7" r="4.15" fill="#fff" stroke="#000" stroke-width="1.8"/>
<circle cx="300.3" cy="727.3" r="4.15" fill="#fff" stroke="#000" stroke-width="1.8"/>
<circle cx="306.7" cy="727.3" r="4.15" fill="#fff" stroke="#000" stroke-width="1.8"/>
<circle cx="313.1" cy="728.3" r="4.15" fill="#fff" stroke="#000" stroke-width="1.8"/>
<circle cx="319.5" cy="730.7" r="4.15" fill="#fff" stroke="#000" stroke-width="1.8"/>
<circle cx="326" cy="735" r="4.15" fill="#fff" stroke="#000" stroke-width="1.8"/>
<circle cx="332.4" cy="738" r="4.15" fill="#fff" stroke="#000" stroke-width="1.8"/>
<circle cx="338.8" cy="734.2" r="4.15" fill="#fff" stroke="#000" stroke-width="1.8"/>
<circle cx="345.2" cy="734.6" r="4.15" fill="#fff" stroke="#000" stroke-width="1.8"/>
<circle cx="351.6" cy="736.2" r="4.15" fill="#fff" stroke="#000" stroke-width="1.8"/>
<circle cx="358.1" cy="736.9" r="4.15" fill="#fff" stroke="#000" stroke-width="1.8"/>
<circle cx="364.5" cy="737.3" r="4.15" fill="#fff" stroke="#000" stroke-width="1.8"/>
<circle cx="370.9" cy="739.5" r="4.15" fill="#fff" stroke="#000" stroke-width="1.8"/>
<circle cx="377.3" cy="741.4" r="4.15" fill="#fff" stroke="#000" stroke-width="1.8"/>
<circle cx="383.7" cy="739.5" r="4.15" fill="#fff" stroke="#000" stroke-width="1.8"/>
<circle cx="390.1" cy="737.3" r="4.15" fill="#fff" stroke="#000" stroke-width="1.8"/>
<circle cx="396.6" cy="738" r="4.15" fill="#fff" stroke="#000" stroke-width="1.8"/>
<circle cx="403" cy="744.4" r="4.15" fill="#fff" stroke="#000" stroke-width="1.8"/>
<circle cx="409.4" cy="745.4" r="4.15" fill="#fff" stroke="#000" stroke-width="1.8"/>
<circle cx="415.8" cy="733.8" r="4.15" fill="#fff" stroke="#000" stroke-width="1.8"/>
<circle cx="422.2" cy="736.2" r="4.15" fill="#fff" stroke="#000" stroke-width="1.8"/>
<circle cx="428.6" cy="740" r="4.15" fill="#fff" stroke="#000" stroke-width="1.8"/>
<circle cx="435.1" cy="742.6" r="4.15" fill="#fff" stroke="#000" stroke-width="1.8"/>
<circle cx="441.5" cy="740" r="4.15" fill="#fff" stroke="#000" stroke-width="1.8"/>
<circle cx="447.9" cy="740" r="4.15" fill="#fff" stroke="#000" stroke-width="1.8"/>
<circle cx="454.3" cy="744.2" r="4.15" fill="#fff" stroke="#000" stroke-width="1.8"/>
<circle cx="460.7" cy="742.2" r="4.15" fill="#fff" stroke="#000" stroke-width="1.8"/>
<circle cx="467.1" cy="738.5" r="4.15" fill="#fff" stroke="#000" stroke-width="1.8"/>
</svg>
</body></html>
